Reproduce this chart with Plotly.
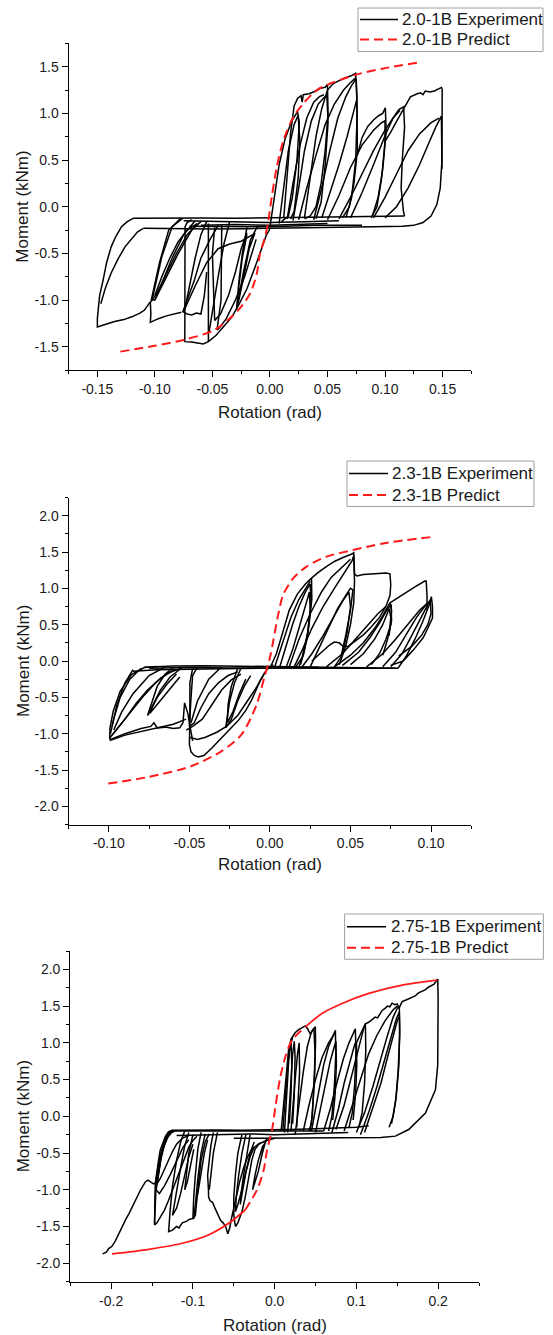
import plotly.graph_objects as go

# ---------------- Panel 1 : 2.0-1B ----------------
pred20_rot = [-0.130, -0.100, -0.074, -0.048, -0.0274, -0.0172, -0.0114, -0.0086, -0.0042, -0.0013,
              0.0016, 0.006, 0.0118, 0.0205, 0.029, 0.0408, 0.0524, 0.0756, 0.0988, 0.1278]
pred20_mom = [-1.553, -1.49, -1.424, -1.32, -1.107, -0.929, -0.714, -0.50, -0.321, -0.143,
              0.107, 0.429, 0.714, 0.964, 1.107, 1.25, 1.32, 1.418, 1.482, 1.543]

e20_upper = [(0.117, -0.10), (0.09, -0.105), (0.06, -0.11), (0.03, -0.115), (0.0, -0.125), (-0.03, -0.125),
             (-0.06, -0.12), (-0.09, -0.12), (-0.119, -0.125)]
e20_lower = [(-0.11, -0.232), (-0.08, -0.235), (-0.05, -0.24), (-0.02, -0.235), (0.0, -0.23), (0.03, -0.225),
             (0.06, -0.22), (0.09, -0.215), (0.115, -0.21), (0.125, -0.2), (0.133, -0.17), (0.14, -0.1),
             (0.145, 0.02), (0.148, 0.2), (0.1495, 0.5), (0.1497, 1.0), (0.1497, 1.27)]
e20_mid1 = [(-0.075, -0.15), (-0.04, -0.16), (0.0, -0.17), (0.03, -0.16), (0.06, -0.15)]
e20_mid2 = [(-0.06, -0.2), (-0.03, -0.19), (0.0, -0.2), (0.025, -0.19), (0.05, -0.18)]
e20_mid3 = [(-0.07, -0.21), (-0.03, -0.215), (0.0, -0.215), (0.04, -0.2), (0.08, -0.2)]
e20_n_outer = [(-0.119, -0.125), (-0.124, -0.16), (-0.129, -0.214), (-0.134, -0.32), (-0.138, -0.43),
               (-0.142, -0.6), (-0.145, -0.786), (-0.148, -0.95), (-0.149, -1.07), (-0.150, -1.2),
               (-0.150, -1.29), (-0.142, -1.26), (-0.135, -1.23), (-0.127, -1.21), (-0.12, -1.18),
               (-0.113, -1.14), (-0.109, -1.107), (-0.104, -1.02)]
e20_n_outer_in = [(-0.147, -1.04), (-0.143, -0.87), (-0.138, -0.71), (-0.132, -0.56), (-0.126, -0.43),
                  (-0.12, -0.34), (-0.115, -0.27), (-0.11, -0.232)]
e20_n1 = [(-0.076, -0.125), (-0.085, -0.214), (-0.094, -0.536), (-0.1014, -0.964), (-0.1025, -1.0),
          (-0.1, -1.0), (-0.0912, -0.786), (-0.0796, -0.5), (-0.068, -0.25), (-0.06, -0.16)]
e20_n2 = [(-0.078, -0.13), (-0.088, -0.25), (-0.096, -0.6), (-0.1025, -0.98), (-0.1035, -1.02),
          (-0.098, -0.92), (-0.09, -0.72), (-0.082, -0.52), (-0.072, -0.3), (-0.064, -0.2)]
e20_n3 = [(-0.104, -1.02), (-0.1035, -1.15), (-0.104, -1.24), (-0.097, -1.2), (-0.09, -1.17),
          (-0.083, -1.15), (-0.077, -1.13)]
e20_n4 = [(-0.068, -0.14), (-0.072, -0.17), (-0.0738, -0.214), (-0.0738, -0.6), (-0.0738, -1.0),
          (-0.074, -1.446), (-0.068, -1.45), (-0.062, -1.46), (-0.058, -1.47), (-0.0535, -1.446),
          (-0.047, -1.38), (-0.04, -1.28), (-0.033, -1.18), (-0.027, -1.05), (-0.02, -0.88),
          (-0.013, -0.65), (-0.007, -0.45), (-0.003, -0.3), (0.0, -0.24)]
e20_n5 = [(-0.0535, -0.18), (-0.0535, -0.6), (-0.054, -1.1), (-0.0535, -1.446)]
e20_n6 = [(-0.045, -0.2), (-0.052, -0.35), (-0.06, -0.55), (-0.066, -0.8), (-0.072, -1.0), (-0.0757, -1.125),
          (-0.072, -1.15), (-0.068, -1.16), (-0.064, -1.14), (-0.06, -1.15), (-0.057, -0.95), (-0.055, -0.7)]
e20_n7 = [(-0.0419, -0.2), (-0.042, -0.6), (-0.0425, -1.0), (-0.046, -1.32), (-0.044, -1.3), (-0.038, -1.2),
          (-0.03, -1.0), (-0.022, -0.75), (-0.016, -0.5), (-0.012, -0.35)]
e20_n8 = [(-0.048, -0.22), (-0.05, -0.5), (-0.049, -0.9), (-0.048, -1.22), (-0.043, -1.15), (-0.036, -0.95),
          (-0.03, -0.7), (-0.025, -0.45), (-0.02, -0.28)]
e20_n9 = [(-0.011, -0.214), (-0.017, -0.357), (-0.023, -0.7), (-0.0286, -1.07), (-0.027, -1.0),
          (-0.022, -0.7), (-0.018, -0.45), (-0.013, -0.28)]
e20_n10 = [(-0.02, -0.22), (-0.024, -0.5), (-0.027, -0.8), (-0.029, -1.1), (-0.027, -0.85), (-0.024, -0.55),
           (-0.02, -0.3)]
e20_n11 = [(-0.075, -1.12), (-0.065, -0.85), (-0.055, -0.6), (-0.045, -0.45), (-0.035, -0.4), (-0.025, -0.37),
           (-0.015, -0.3)]
e20_n12 = [(-0.065, -0.15), (-0.075, -0.3), (-0.085, -0.55), (-0.093, -0.8), (-0.1, -1.0)]
e20_n13 = [(-0.055, -0.16), (-0.06, -0.3), (-0.065, -0.55), (-0.07, -0.85), (-0.074, -1.1)]
e20_n14 = [(-0.035, -0.16), (-0.04, -0.4), (-0.045, -0.75), (-0.05, -1.1), (-0.053, -1.35)]
e20_n15 = [(-0.1, -0.95), (-0.094, -0.75), (-0.087, -0.55), (-0.08, -0.38), (-0.072, -0.25), (-0.063, -0.18)]
e20_p1 = [(0.0, -0.22), (0.004, 0.1), (0.008, 0.45), (0.013, 0.72), (0.019, 0.92), (0.024, 1.02), (0.0255, 0.9),
          (0.0235, 0.5), (0.0195, 0.1), (0.016, -0.1), (0.01, -0.16)]
e20_p2 = [(0.008, -0.18), (0.012, 0.2), (0.016, 0.6), (0.021, 0.88), (0.0245, 0.98), (0.026, 0.7), (0.0245, 0.3),
          (0.021, -0.05), (0.018, -0.13)]
e20_p3 = [(0.012, -0.12), (0.015, 0.3), (0.018, 0.8), (0.021, 1.08), (0.024, 1.16), (0.027, 1.19), (0.028, 1.12),
          (0.029, 1.2), (0.034, 1.21), (0.04, 1.24), (0.044, 1.27), (0.048, 1.28), (0.05, 1.31), (0.0505, 1.0),
          (0.048, 0.6), (0.0445, 0.25), (0.04, 0.0), (0.035, -0.1), (0.03, -0.13)]
e20_p4 = [(0.02, -0.15), (0.025, 0.2), (0.03, 0.6), (0.036, 0.92), (0.042, 1.1), (0.047, 1.17), (0.0495, 1.19),
          (0.0505, 0.9), (0.048, 0.45), (0.0445, 0.05), (0.04, -0.13)]
e20_p5 = [(0.03, -0.12), (0.035, 0.3), (0.04, 0.75), (0.045, 1.05), (0.05, 1.25), (0.055, 1.32), (0.06, 1.35),
          (0.065, 1.38), (0.07, 1.4), (0.0745, 1.43), (0.0755, 1.2), (0.076, 0.6), (0.073, 0.25), (0.069, 0.0),
          (0.063, -0.12)]
e20_p6 = [(0.038, -0.14), (0.045, 0.2), (0.052, 0.6), (0.059, 0.95), (0.066, 1.18), (0.071, 1.3), (0.075, 1.37),
          (0.0758, 1.0), (0.0745, 0.5), (0.071, 0.1), (0.066, -0.12)]
e20_p7 = [(0.076, 0.55), (0.08, 0.74), (0.085, 0.86), (0.09, 0.93), (0.095, 0.98), (0.098, 1.0), (0.1003, 1.06),
          (0.101, 0.8), (0.098, 0.4), (0.094, 0.1), (0.089, -0.1)]
e20_p8 = [(0.05, -0.14), (0.06, 0.12), (0.07, 0.42), (0.08, 0.66), (0.09, 0.82), (0.097, 0.9), (0.1, 0.92),
          (0.1, 0.7), (0.097, 0.3), (0.093, 0.0), (0.088, -0.12)]
e20_p9 = [(0.07, -0.12), (0.08, 0.15), (0.09, 0.45), (0.1, 0.76), (0.107, 0.95), (0.112, 1.04), (0.1162, 1.07),
          (0.117, 0.85), (0.115, 0.5), (0.114, 0.2), (0.116, -0.05), (0.117, -0.10)]
e20_p10 = [(0.1, 0.7), (0.105, 0.8), (0.1105, 0.926), (0.116, 1.05), (0.1221, 1.178), (0.128, 1.21),
           (0.131, 1.22), (0.133, 1.2), (0.135, 1.24), (0.139, 1.23), (0.143, 1.24), (0.146, 1.26), (0.1497, 1.28)]
e20_p11 = [(0.1, -0.12), (0.11, 0.0), (0.12, 0.2), (0.13, 0.45), (0.138, 0.68), (0.144, 0.85), (0.149, 0.97),
           (0.1495, 0.7), (0.1495, 0.4)]
e20_p12 = [(0.015, -0.13), (0.02, 0.25), (0.026, 0.65), (0.032, 0.95), (0.038, 1.12), (0.043, 1.18), (0.047, 1.2)]
e20_p13 = [(0.025, -0.14), (0.032, 0.2), (0.04, 0.55), (0.048, 0.88), (0.056, 1.1), (0.064, 1.25), (0.07, 1.33),
           (0.0745, 1.38)]
e20_p14 = [(0.06, -0.13), (0.07, 0.1), (0.08, 0.35), (0.09, 0.6), (0.1, 0.82), (0.107, 0.95), (0.113, 1.03)]
e20_p15 = [(0.09, -0.12), (0.1, 0.1), (0.11, 0.35), (0.12, 0.6), (0.13, 0.78), (0.14, 0.9), (0.147, 0.95)]
e20_p16 = [(0.045, -0.12), (0.052, 0.15), (0.06, 0.45), (0.067, 0.75), (0.072, 1.0), (0.0755, 1.15)]

# ---------------- Panel 2 : 2.3-1B ----------------
pred23_rot = [-0.1004, -0.0755, -0.0486, -0.030, -0.0176, -0.0083, -0.0032, -0.0001, 0.002, 0.0051, 0.0082,
              0.0144, 0.0227, 0.0351, 0.0516, 0.0702, 0.1012]
pred23_mom = [-1.687, -1.596, -1.445, -1.24, -1.01, -0.6, -0.2, 0.04, 0.268, 0.635, 0.91,
              1.138, 1.298, 1.436, 1.527, 1.618, 1.709]

e23_plat1 = [(-0.078, -0.085), (-0.06, -0.07), (-0.04, -0.065), (-0.02, -0.07), (0.0, -0.08), (0.02, -0.085),
             (0.04, -0.09), (0.06, -0.095), (0.0795, -0.1)]
e23_plat2 = [(-0.075, -0.1), (-0.05, -0.09), (-0.025, -0.095), (0.0, -0.1), (0.03, -0.1), (0.06, -0.1), (0.078, -0.1)]
e23_plat3 = [(-0.085, -0.14), (-0.07, -0.12), (-0.05, -0.115), (-0.03, -0.11), (-0.01, -0.1), (0.01, -0.09),
             (0.03, -0.085)]
e23_n_outer = [(-0.07, -0.075), (-0.078, -0.09), (-0.086, -0.188), (-0.093, -0.416), (-0.0973, -0.69),
               (-0.0993, -0.92), (-0.0995, -1.06), (-0.099, -1.09), (-0.09, -1.02), (-0.08, -0.97),
               (-0.07, -0.92), (-0.06, -0.87), (-0.052, -0.8)]
e23_notch = [(-0.099, -1.08), (-0.09, -1.0), (-0.08, -0.93), (-0.074, -0.9), (-0.072, -0.85), (-0.07, -0.92),
             (-0.065, -0.91), (-0.06, -0.93), (-0.056, -0.92), (-0.054, -0.85), (-0.053, -0.577), (-0.051, -0.72),
             (-0.05, -0.85), (-0.049, -1.0), (-0.048, -1.1)]
e23_n1 = [(-0.0995, -1.06), (-0.092, -0.85), (-0.085, -0.65), (-0.078, -0.47), (-0.071, -0.3), (-0.064, -0.17),
          (-0.055, -0.1)]
e23_n2 = [(-0.098, -1.02), (-0.09, -0.8), (-0.083, -0.58), (-0.076, -0.4), (-0.068, -0.24), (-0.06, -0.13)]
e23_n3 = [(-0.06, -0.09), (-0.065, -0.18), (-0.07, -0.35), (-0.074, -0.6), (-0.076, -0.75), (-0.074, -0.68),
          (-0.07, -0.5), (-0.064, -0.32), (-0.058, -0.18)]
e23_n4 = [(-0.055, -0.1), (-0.062, -0.22), (-0.068, -0.4), (-0.073, -0.62), (-0.0745, -0.72), (-0.07, -0.6),
          (-0.063, -0.4), (-0.056, -0.22)]
e23_n5 = [(-0.048, -0.1), (-0.0497, -0.3), (-0.0497, -0.7), (-0.05, -1.0), (-0.05, -1.15), (-0.049, -1.25),
          (-0.047, -1.3), (-0.0446, -1.32), (-0.041, -1.3), (-0.0362, -1.2), (-0.032, -1.1), (-0.0279, -1.01),
          (-0.0235, -0.91), (-0.0197, -0.82), (-0.015, -0.68), (-0.0114, -0.54), (-0.0063, -0.28),
          (-0.002, -0.12), (0.002, -0.05)]
e23_n6 = [(-0.05, -1.05), (-0.045, -1.08), (-0.04, -1.05), (-0.033, -0.98), (-0.027, -0.9), (-0.02, -0.75),
          (-0.014, -0.55), (-0.008, -0.35), (-0.003, -0.15)]
e23_n7 = [(-0.045, -0.08), (-0.048, -0.2), (-0.049, -0.5), (-0.05, -0.9), (-0.047, -0.85), (-0.043, -0.65),
          (-0.038, -0.45), (-0.032, -0.3), (-0.026, -0.2), (-0.02, -0.15)]
e23_n8 = [(-0.052, -0.95), (-0.048, -0.9), (-0.042, -0.8), (-0.036, -0.6), (-0.03, -0.4), (-0.024, -0.26),
          (-0.018, -0.18)]
e23_n9 = [(-0.018, -0.1), (-0.022, -0.3), (-0.025, -0.55), (-0.027, -0.8), (-0.0275, -0.92), (-0.024, -0.8),
          (-0.02, -0.55), (-0.016, -0.35), (-0.012, -0.2)]
e23_n10 = [(-0.02, -0.1), (-0.024, -0.35), (-0.026, -0.6), (-0.0265, -0.85), (-0.023, -0.7), (-0.019, -0.45),
           (-0.015, -0.25)]
e23_n11 = [(-0.065, -0.08), (-0.075, -0.2), (-0.085, -0.45), (-0.092, -0.7), (-0.097, -0.95)]
e23_n12 = [(-0.03, -0.08), (-0.038, -0.25), (-0.045, -0.55), (-0.049, -0.85)]
e23_n13 = [(-0.085, -0.12), (-0.09, -0.3), (-0.095, -0.6), (-0.098, -0.9)]
e23_n14 = [(-0.08, -0.1), (-0.087, -0.25), (-0.093, -0.5), (-0.097, -0.8), (-0.099, -1.0)]
e23_p1 = [(0.0, -0.1), (0.004, 0.1), (0.008, 0.4), (0.012, 0.7), (0.017, 0.92), (0.022, 1.06), (0.0258, 1.14),
          (0.026, 0.85), (0.024, 0.45), (0.021, 0.1), (0.018, -0.08)]
e23_p2 = [(0.006, -0.09), (0.01, 0.2), (0.014, 0.5), (0.018, 0.75), (0.022, 0.95), (0.025, 1.06), (0.0255, 0.8),
          (0.0235, 0.4), (0.02, 0.05), (0.016, -0.08)]
e23_p3 = [(0.01, -0.09), (0.014, 0.15), (0.018, 0.45), (0.022, 0.75), (0.0245, 0.95), (0.025, 0.7),
          (0.023, 0.3), (0.019, -0.05)]
e23_p4 = [(0.0258, 1.14), (0.03, 1.22), (0.035, 1.3), (0.04, 1.37), (0.045, 1.42), (0.0517, 1.48), (0.052, 1.5),
          (0.0525, 1.2), (0.054, 1.17), (0.058, 1.19), (0.065, 1.2), (0.072, 1.21), (0.0745, 1.2), (0.075, 1.05),
          (0.0745, 0.9), (0.072, 0.75), (0.068, 0.6), (0.063, 0.47), (0.058, 0.36), (0.053, 0.27),
          (0.0485, 0.2), (0.0455, 0.2), (0.043, 0.25), (0.04, 0.26), (0.037, 0.22), (0.032, 0.12), (0.026, 0.0)]
e23_p5 = [(0.015, -0.08), (0.02, 0.15), (0.026, 0.45), (0.033, 0.75), (0.04, 1.0), (0.046, 1.2), (0.051, 1.38),
          (0.052, 1.45), (0.0525, 1.1), (0.052, 0.8), (0.05, 0.5), (0.047, 0.2), (0.043, -0.05)]
e23_p6 = [(0.025, -0.08), (0.03, 0.15), (0.036, 0.45), (0.042, 0.72), (0.047, 0.9), (0.05, 1.0), (0.0515, 0.98),
          (0.05, 0.7), (0.047, 0.35), (0.044, 0.05), (0.04, -0.08)]
e23_p7 = [(0.02, -0.08), (0.026, 0.1), (0.033, 0.35), (0.04, 0.62), (0.045, 0.82), (0.049, 0.95), (0.05, 0.75),
          (0.048, 0.4), (0.045, 0.1)]
e23_p8 = [(0.04, -0.08), (0.05, 0.08), (0.058, 0.25), (0.065, 0.45), (0.07, 0.62), (0.0745, 0.8), (0.0755, 0.7),
          (0.075, 0.5), (0.072, 0.3), (0.068, 0.1), (0.063, -0.05)]
e23_p9 = [(0.045, -0.06), (0.055, 0.12), (0.062, 0.32), (0.068, 0.52), (0.072, 0.68), (0.0752, 0.78),
          (0.0755, 0.55), (0.073, 0.3), (0.07, 0.08)]
e23_p10 = [(0.05, -0.05), (0.058, 0.1), (0.065, 0.3), (0.07, 0.5), (0.074, 0.72), (0.075, 0.6), (0.074, 0.35)]
e23_p11 = [(0.0745, 0.8), (0.08, 0.88), (0.085, 0.95), (0.09, 1.02), (0.0961, 1.1), (0.097, 1.1), (0.0975, 0.9),
           (0.0975, 0.7)]
e23_p12 = [(0.0795, -0.1), (0.085, 0.08), (0.09, 0.3), (0.095, 0.55), (0.099, 0.78), (0.1002, 0.886),
           (0.1009, 0.75), (0.1009, 0.59), (0.098, 0.45), (0.0951, 0.32), (0.089, 0.15), (0.0827, 0.0),
           (0.075, -0.06)]
e23_p13 = [(0.075, -0.08), (0.082, 0.1), (0.088, 0.35), (0.094, 0.6), (0.098, 0.78), (0.0995, 0.84), (0.1, 0.65),
           (0.098, 0.5), (0.094, 0.35), (0.088, 0.2), (0.08, 0.07)]
e23_p14 = [(0.07, -0.08), (0.078, 0.12), (0.085, 0.38), (0.091, 0.6), (0.096, 0.75), (0.099, 0.82)]
e23_p15 = [(0.003, -0.08), (0.008, 0.25), (0.013, 0.6), (0.018, 0.85), (0.022, 1.0), (0.025, 1.1)]
e23_p16 = [(0.012, -0.08), (0.018, 0.3), (0.025, 0.65), (0.032, 0.95), (0.038, 1.15), (0.045, 1.3), (0.05, 1.4)]
e23_p17 = [(0.035, -0.08), (0.045, 0.1), (0.053, 0.3), (0.06, 0.48), (0.067, 0.65), (0.072, 0.75)]
e23_p18 = [(0.06, -0.08), (0.07, 0.1), (0.078, 0.3), (0.086, 0.52), (0.093, 0.7), (0.098, 0.8)]

# ---------------- Panel 3 : 2.75-1B ----------------
pred275_rot = [-0.199, -0.154, -0.113, -0.081, -0.0562, -0.036, -0.0216, -0.0134, -0.0093, -0.0032, 0.0009,
               0.007, 0.0131, 0.0213, 0.0377, 0.058, 0.0825, 0.1152, 0.156, 0.1988]
pred275_mom = [-1.873, -1.81, -1.728, -1.615, -1.457, -1.275, -1.0, -0.73, -0.46, -0.186, 0.13,
               0.538, 0.81, 1.036, 1.218, 1.4, 1.536, 1.672, 1.786, 1.854]

e275_upper = [(-0.1256, -0.19), (-0.1, -0.185), (-0.07, -0.185), (-0.04, -0.19), (-0.01, -0.19), (0.02, -0.18),
              (0.05, -0.17), (0.08, -0.16), (0.1, -0.15), (0.115, -0.13)]
e275_upper2 = [(-0.125, -0.2), (-0.09, -0.2), (-0.05, -0.2), (0.0, -0.21), (0.03, -0.2), (0.06, -0.2)]
e275_mid = [(-0.12, -0.26), (-0.09, -0.25), (-0.06, -0.24), (-0.03, -0.24), (0.0, -0.25), (0.03, -0.24),
            (0.06, -0.23), (0.09, -0.22)]
e275_lower = [(-0.05, -0.3), (-0.02, -0.3), (0.0, -0.3), (0.03, -0.29), (0.07, -0.29), (0.1, -0.29), (0.13, -0.29),
              (0.1477, -0.27), (0.164, -0.18), (0.1845, 0.044), (0.1967, 0.36), (0.1995, 0.7), (0.2, 1.2),
              (0.2, 1.6), (0.1995, 1.87)]
e275_top = [(0.1, 1.0), (0.105, 1.12), (0.111, 1.26), (0.115, 1.28), (0.119, 1.31), (0.123, 1.35), (0.126, 1.34),
            (0.129, 1.4), (0.1314, 1.44), (0.135, 1.47), (0.138, 1.5), (0.141, 1.49), (0.1436, 1.54), (0.147, 1.52),
            (0.15, 1.53), (0.152, 1.47), (0.154, 1.52), (0.156, 1.56), (0.16, 1.58), (0.164, 1.6), (0.168, 1.63),
            (0.172, 1.64), (0.176, 1.68), (0.18, 1.7), (0.184, 1.72), (0.1886, 1.76), (0.192, 1.78), (0.195, 1.8),
            (0.197, 1.83), (0.1988, 1.86), (0.2, 1.85)]
e275_p1 = [(0.008, -0.2), (0.011, 0.2), (0.014, 0.6), (0.017, 0.9), (0.02, 1.05), (0.0253, 1.14), (0.0294, 1.18),
           (0.033, 1.2), (0.0376, 1.23), (0.04, 1.2), (0.0436, 1.12), (0.046, 1.16), (0.0498, 1.22), (0.05, 1.0),
           (0.049, 0.6), (0.047, 0.2), (0.045, -0.1), (0.042, -0.2)]
e275_p2 = [(0.012, -0.22), (0.014, 0.2), (0.016, 0.6), (0.018, 0.9), (0.02, 1.0), (0.021, 0.7), (0.02, 0.3),
           (0.018, -0.1)]
e275_p3 = [(0.016, -0.22), (0.018, 0.2), (0.02, 0.55), (0.022, 0.85), (0.024, 1.02), (0.025, 0.8), (0.024, 0.3),
           (0.022, -0.1)]
e275_p4 = [(0.02, -0.2), (0.022, 0.1), (0.025, 0.5), (0.028, 0.85), (0.03, 1.0), (0.0305, 0.6), (0.029, 0.2),
           (0.027, -0.15)]
e275_p5 = [(0.025, -0.25), (0.03, 0.2), (0.035, 0.6), (0.04, 0.95), (0.045, 1.15), (0.048, 1.2), (0.0495, 0.85),
           (0.048, 0.4), (0.046, 0.0), (0.043, -0.2)]
e275_p6 = [(0.045, -0.2), (0.05, 0.1), (0.055, 0.4), (0.06, 0.7), (0.066, 0.95), (0.071, 1.1), (0.0743, 1.17),
           (0.0748, 0.85), (0.073, 0.4), (0.07, 0.0), (0.066, -0.2)]
e275_p7 = [(0.05, -0.22), (0.056, 0.1), (0.062, 0.45), (0.068, 0.75), (0.073, 0.95), (0.075, 1.02), (0.0755, 0.7),
           (0.074, 0.3), (0.071, -0.05)]
e275_p8 = [(0.06, -0.2), (0.068, 0.1), (0.076, 0.45), (0.084, 0.78), (0.091, 1.0), (0.096, 1.14), (0.0987, 1.19),
           (0.0995, 0.9), (0.098, 0.45), (0.095, 0.05), (0.091, -0.15)]
e275_p9 = [(0.07, -0.22), (0.078, 0.1), (0.085, 0.45), (0.092, 0.75), (0.098, 0.98), (0.1, 1.02), (0.1005, 0.7),
           (0.099, 0.3), (0.096, -0.05)]
e275_p10 = [(0.075, -0.18), (0.085, 0.15), (0.093, 0.5), (0.1, 0.8), (0.105, 1.05), (0.109, 1.2), (0.111, 1.26),
            (0.1115, 0.9), (0.11, 0.45), (0.107, 0.05), (0.103, -0.15)]
e275_p11 = [(0.1, -0.22), (0.11, 0.05), (0.12, 0.4), (0.13, 0.8), (0.138, 1.1), (0.145, 1.35), (0.15, 1.47),
            (0.1525, 1.5), (0.153, 1.2), (0.152, 0.7), (0.149, 0.3), (0.145, 0.0), (0.14, -0.15)]
e275_p12 = [(0.105, -0.25), (0.115, 0.05), (0.125, 0.4), (0.135, 0.78), (0.143, 1.1), (0.149, 1.33),
            (0.1525, 1.42), (0.153, 1.1), (0.151, 0.6), (0.148, 0.2), (0.143, -0.1)]
e275_p13 = [(0.11, -0.22), (0.12, 0.1), (0.13, 0.45), (0.138, 0.8), (0.145, 1.1), (0.15, 1.3), (0.152, 1.35)]
e275_p14 = [(0.01, -0.2), (0.013, 0.3), (0.016, 0.7), (0.019, 0.95), (0.022, 1.08)]
e275_p15 = [(0.035, -0.2), (0.042, 0.15), (0.05, 0.5), (0.058, 0.8), (0.066, 1.0), (0.073, 1.12)]
e275_p16 = [(0.085, -0.2), (0.095, 0.15), (0.105, 0.5), (0.115, 0.85), (0.125, 1.1), (0.135, 1.3), (0.145, 1.45),
            (0.15, 1.5)]
e275_n_outer1 = [(-0.1256, -0.19), (-0.13, -0.21), (-0.1338, -0.277), (-0.137, -0.36), (-0.14, -0.46),
                 (-0.142, -0.6), (-0.144, -0.73), (-0.146, -0.91), (-0.1465, -1.1), (-0.147, -1.3),
                 (-0.1469, -1.48), (-0.144, -1.45), (-0.14, -1.38), (-0.135, -1.28), (-0.13, -1.15),
                 (-0.125, -1.0), (-0.12, -0.85), (-0.115, -0.7), (-0.11, -0.55), (-0.105, -0.42),
                 (-0.1, -0.33), (-0.095, -0.27)]
e275_n_outer2 = [(-0.123, -0.2), (-0.128, -0.23), (-0.132, -0.3), (-0.136, -0.42), (-0.139, -0.55),
                 (-0.142, -0.75), (-0.144, -0.92), (-0.14, -0.85), (-0.135, -0.72), (-0.13, -0.6),
                 (-0.125, -0.48), (-0.12, -0.38), (-0.113, -0.3), (-0.105, -0.26)]
e275_n_outer3 = [(-0.121, -0.19), (-0.126, -0.22), (-0.131, -0.29), (-0.135, -0.4), (-0.139, -0.58),
                 (-0.142, -0.8), (-0.145, -1.0), (-0.141, -1.05), (-0.135, -0.95), (-0.128, -0.8),
                 (-0.12, -0.6), (-0.112, -0.42), (-0.105, -0.32)]
e275_n_outer4 = [(-0.124, -0.19), (-0.129, -0.22), (-0.133, -0.3), (-0.136, -0.4), (-0.139, -0.53),
                 (-0.141, -0.68), (-0.143, -0.82), (-0.145, -0.95), (-0.146, -1.2), (-0.147, -1.45)]
e275_n_outer5 = [(-0.127, -0.2), (-0.131, -0.25), (-0.135, -0.33), (-0.138, -0.44), (-0.141, -0.58),
                 (-0.143, -0.72), (-0.145, -0.86)]
e275_n_left = [(-0.2105, -1.873), (-0.206, -1.85), (-0.203, -1.8), (-0.199, -1.77), (-0.195, -1.7),
               (-0.19, -1.58), (-0.187, -1.5), (-0.182, -1.4), (-0.178, -1.32), (-0.174, -1.23),
               (-0.169, -1.1), (-0.164, -1.0), (-0.158, -0.89), (-0.155, -0.87), (-0.151, -0.9),
               (-0.148, -0.92), (-0.146, -0.91)]
e275_n1 = [(-0.11, -0.2), (-0.115, -0.35), (-0.12, -0.6), (-0.125, -0.95), (-0.128, -1.3), (-0.1297, -1.57),
           (-0.125, -1.55), (-0.12, -1.5), (-0.117, -1.52), (-0.113, -1.45), (-0.108, -1.43), (-0.104, -1.4),
           (-0.0991, -1.39), (-0.097, -1.2)]
e275_n2 = [(-0.09, -0.22), (-0.094, -0.45), (-0.097, -0.8), (-0.099, -1.1), (-0.1, -1.39), (-0.097, -1.35),
           (-0.094, -1.0), (-0.09, -0.6), (-0.085, -0.35), (-0.08, -0.24)]
e275_n3 = [(-0.085, -0.24), (-0.09, -0.5), (-0.094, -0.85), (-0.097, -1.2), (-0.094, -1.05), (-0.09, -0.75),
           (-0.086, -0.5), (-0.082, -0.32)]
e275_n4 = [(-0.1, -0.25), (-0.105, -0.5), (-0.108, -0.8), (-0.11, -1.0), (-0.107, -0.9), (-0.103, -0.65),
           (-0.099, -0.45)]
e275_n5 = [(-0.075, -0.22), (-0.078, -0.4), (-0.08, -0.6), (-0.082, -0.8), (-0.081, -1.0), (-0.0808, -1.1),
           (-0.079, -1.15), (-0.076, -1.17), (-0.073, -1.25), (-0.0686, -1.37), (-0.066, -1.42), (-0.063, -1.45),
           (-0.06, -1.5), (-0.0573, -1.6), (-0.055, -1.52), (-0.053, -1.4), (-0.05, -1.25), (-0.047, -1.1),
           (-0.043, -0.9), (-0.038, -0.7), (-0.033, -0.55), (-0.028, -0.45), (-0.02, -0.38), (-0.01, -0.33),
           (0.0, -0.3)]
e275_n6 = [(-0.04, -0.25), (-0.045, -0.5), (-0.048, -0.8), (-0.05, -1.1), (-0.05, -1.35), (-0.048, -1.5),
           (-0.045, -1.45), (-0.04, -1.3), (-0.036, -1.1), (-0.032, -0.85), (-0.028, -0.6), (-0.024, -0.45),
           (-0.018, -0.36)]
e275_n7 = [(-0.035, -0.24), (-0.04, -0.5), (-0.044, -0.8), (-0.047, -1.1), (-0.048, -1.3), (-0.045, -1.2),
           (-0.04, -1.0), (-0.035, -0.75), (-0.03, -0.55), (-0.025, -0.42)]
e275_n8 = [(-0.03, -0.25), (-0.034, -0.5), (-0.038, -0.8), (-0.041, -1.05), (-0.042, -1.2), (-0.039, -1.0),
           (-0.035, -0.75), (-0.03, -0.5), (-0.025, -0.35)]
e275_n9 = [(-0.01, -0.3), (-0.015, -0.5), (-0.02, -0.75), (-0.025, -0.95), (-0.027, -1.0), (-0.024, -0.8),
           (-0.02, -0.6), (-0.015, -0.42), (-0.01, -0.33)]
e275_n10 = [(-0.105, -0.22), (-0.11, -0.4), (-0.115, -0.7), (-0.12, -1.0), (-0.123, -1.2), (-0.125, -1.35),
            (-0.12, -1.25), (-0.115, -1.05), (-0.11, -0.8), (-0.105, -0.55), (-0.1, -0.38)]
e275_n11 = [(-0.07, -0.22), (-0.075, -0.5), (-0.078, -0.8), (-0.08, -1.0)]

# tick labels
x1_ticks = [-0.15, -0.10, -0.05, 0.0, 0.05, 0.10, 0.15]
x1_text = ["-0.15", "-0.10", "-0.05", "0.00", "0.05", "0.10", "0.15"]
y1_ticks = [-1.5, -1.0, -0.5, 0.0, 0.5, 1.0, 1.5]
y1_text = ["-1.5", "-1.0", "-0.5", "0.0", "0.5", "1.0", "1.5"]
x2_ticks = [-0.10, -0.05, 0.0, 0.05, 0.10]
x2_text = ["-0.10", "-0.05", "0.00", "0.05", "0.10"]
y23_ticks = [-2.0, -1.5, -1.0, -0.5, 0.0, 0.5, 1.0, 1.5, 2.0]
y23_text = ["-2.0", "-1.5", "-1.0", "-0.5", "0.0", "0.5", "1.0", "1.5", "2.0"]
x3_ticks = [-0.2, -0.1, 0.0, 0.1, 0.2]
x3_text = ["-0.2", "-0.1", "0.0", "0.1", "0.2"]
specimens = ["2.0-1B", "2.3-1B", "2.75-1B"]


def join(segs):
    xs, ys = [], []
    for s in segs:
        for a, b in s:
            xs.append(a)
            ys.append(b)
        xs.append(None)
        ys.append(None)
    return xs, ys


exp20 = [e20_upper, e20_lower, e20_mid1, e20_mid2, e20_mid3, e20_n_outer, e20_n_outer_in, e20_n1, e20_n2,
         e20_n3, e20_n4, e20_n5, e20_n6, e20_n7, e20_n8, e20_n9, e20_n10, e20_n11, e20_n12, e20_n13, e20_n14,
         e20_n15, e20_p1, e20_p2, e20_p3, e20_p4, e20_p5, e20_p6, e20_p7, e20_p8, e20_p9, e20_p10, e20_p11,
         e20_p12, e20_p13, e20_p14, e20_p15, e20_p16]
exp23 = [e23_plat1, e23_plat2, e23_plat3, e23_n_outer, e23_notch, e23_n1, e23_n2, e23_n3, e23_n4, e23_n5,
         e23_n6, e23_n7, e23_n8, e23_n9, e23_n10, e23_n11, e23_n12, e23_n13, e23_n14, e23_p1, e23_p2, e23_p3,
         e23_p4, e23_p5, e23_p6, e23_p7, e23_p8, e23_p9, e23_p10, e23_p11, e23_p12, e23_p13, e23_p14, e23_p15,
         e23_p16, e23_p17, e23_p18]
exp275 = [e275_upper, e275_upper2, e275_mid, e275_lower, e275_top, e275_p1, e275_p2, e275_p3, e275_p4, e275_p5,
          e275_p6, e275_p7, e275_p8, e275_p9, e275_p10, e275_p11, e275_p12, e275_p13, e275_p14, e275_p15,
          e275_p16, e275_n_outer1, e275_n_outer2, e275_n_outer3, e275_n_outer4, e275_n_outer5, e275_n_left,
          e275_n1, e275_n2, e275_n3, e275_n4, e275_n5, e275_n6, e275_n7, e275_n8, e275_n9, e275_n10, e275_n11]

RED = "#ff1a1a"
BLACK = dict(color="black", width=1.5)
RED_DASH = dict(color=RED, width=2, dash="9px,5px", shape="spline", smoothing=0.8)
RED_SOLID = dict(color=RED, width=1.8, shape="spline", smoothing=0.8)

fig = go.Figure()
panels = [(specimens[0], exp20, pred20_rot, pred20_mom, "x", "y"),
          (specimens[1], exp23, pred23_rot, pred23_mom, "x2", "y2")]
for name, segs, pr, pm, xa, ya in panels:
    xs, ys = join(segs)
    fig.add_trace(go.Scatter(x=xs, y=ys, mode="lines", line=BLACK, name=name + " Experiment",
                             xaxis=xa, yaxis=ya, showlegend=False, connectgaps=False, hoverinfo="skip"))
    fig.add_trace(go.Scatter(x=pr, y=pm, mode="lines", line=RED_DASH, name=name + " Predict",
                             xaxis=xa, yaxis=ya, showlegend=False, hoverinfo="skip"))

xs, ys = join(exp275)
fig.add_trace(go.Scatter(x=xs, y=ys, mode="lines", line=BLACK, name=specimens[2] + " Experiment",
                         xaxis="x3", yaxis="y3", showlegend=False, connectgaps=False, hoverinfo="skip"))
fig.add_trace(go.Scatter(x=pred275_rot[5:15], y=pred275_mom[5:15], mode="lines", line=RED_DASH,
                         name=specimens[2] + " Predict", xaxis="x3", yaxis="y3", showlegend=False,
                         hoverinfo="skip"))
fig.add_trace(go.Scatter(x=pred275_rot[:6], y=pred275_mom[:6], mode="lines", line=RED_SOLID,
                         showlegend=False, xaxis="x3", yaxis="y3", hoverinfo="skip"))
fig.add_trace(go.Scatter(x=pred275_rot[14:], y=pred275_mom[14:], mode="lines", line=RED_SOLID,
                         showlegend=False, xaxis="x3", yaxis="y3", hoverinfo="skip"))

W, H = 553, 1335
FONT = "Liberation Sans, Arial, sans-serif"
TXT = "#1a1a1a"


def axis_common(dom, rng, tv, tt, mdt, anchor):
    return dict(domain=dom, range=rng, tickvals=tv, ticktext=tt, showline=True, linecolor="black",
                linewidth=1.2, ticks="outside", ticklen=6, tickwidth=1.2, tickcolor="black",
                showgrid=False, zeroline=False, mirror=False, anchor=anchor, automargin=False,
                tickfont=dict(family=FONT, size=14, color=TXT),
                minor=dict(dtick=mdt, tick0=0, ticks="outside", ticklen=3, tickwidth=1.2, tickcolor="black",
                           showgrid=False))


xd12 = [68.6 / W, 471.3 / W]
xd3 = [70.3 / W, 479.0 / W]
yd1 = [1 - 370.0 / H, 1 - 43.4 / H]
yd2 = [1 - 824.5 / H, 1 - 497.5 / H]
yd3 = [1 - 1281.6 / H, 1 - 951.0 / H]

fig.update_layout(
    width=W, height=H, margin=dict(l=0, r=0, t=0, b=0), paper_bgcolor="white", plot_bgcolor="white",
    xaxis=axis_common(xd12, [-0.175, 0.175], x1_ticks, x1_text, 0.025, "y"),
    yaxis=axis_common(yd1, [-1.75, 1.75], y1_ticks, y1_text, 0.25, "x"),
    xaxis2=axis_common(xd12, [-0.125, 0.125], x2_ticks, x2_text, 0.025, "y2"),
    yaxis2=axis_common(yd2, [-2.25, 2.25], y23_ticks, y23_text, 0.25, "x2"),
    xaxis3=axis_common(xd3, [-0.25, 0.25], x3_ticks, x3_text, 0.05, "y3"),
    yaxis3=axis_common(yd3, [-2.25, 2.25], y23_ticks, y23_text, 0.25, "x3"),
    showlegend=False,
)


def px(x):
    return x / W


def py(y):
    return 1 - y / H


shapes = []
ann = []
# legend boxes drawn as shapes + text: (box left, box right, box top, box bottom, line x0, line x1, text x, row1, row2)
legend_boxes = [(358, 543, 8, 51.5, 360, 398, 400, 19.5, 39.5),
                (347, 534, 461, 506.5, 349, 388, 390, 473.5, 495),
                (344.6, 543.4, 914, 959.3, 347, 386, 389, 926.7, 947.7)]
for name, (bl, br, bt, bb, l0, l1, tx, r1, r2) in zip(specimens, legend_boxes):
    shapes.append(dict(type="rect", xref="paper", yref="paper", x0=px(bl), x1=px(br), y0=py(bb), y1=py(bt),
                       line=dict(color="#a0a0a0", width=1), fillcolor="white", layer="above"))
    shapes.append(dict(type="line", xref="paper", yref="paper", x0=px(l0), x1=px(l1), y0=py(r1), y1=py(r1),
                       line=dict(color="black", width=1.5), layer="above"))
    shapes.append(dict(type="line", xref="paper", yref="paper", x0=px(l0), x1=px(l1), y0=py(r2), y1=py(r2),
                       line=dict(color=RED, width=2, dash="9px,5px"), layer="above"))
    for row, lab in [(r1, name + " Experiment"), (r2, name + " Predict")]:
        ann.append(dict(text=lab, x=px(tx), y=py(row), xref="paper", yref="paper", xanchor="left",
                        yanchor="middle", showarrow=False, font=dict(family=FONT, size=17, color=TXT)))

for xc, yc in [(270, 413), (270, 864), (274.6, 1325)]:
    ann.append(dict(text="Rotation (rad)", x=px(xc), y=py(yc), xref="paper", yref="paper",
                    xanchor="center", yanchor="middle", showarrow=False,
                    font=dict(family=FONT, size=17, color=TXT)))
for yc in [206.7, 661.0, 1116.3]:
    ann.append(dict(text="Moment (kNm)", x=px(23), y=py(yc), xref="paper", yref="paper",
                    xanchor="center", yanchor="middle", showarrow=False, textangle=-90,
                    font=dict(family=FONT, size=17, color=TXT)))
fig.update_layout(annotations=ann, shapes=shapes)

fig.write_html("out.html")
